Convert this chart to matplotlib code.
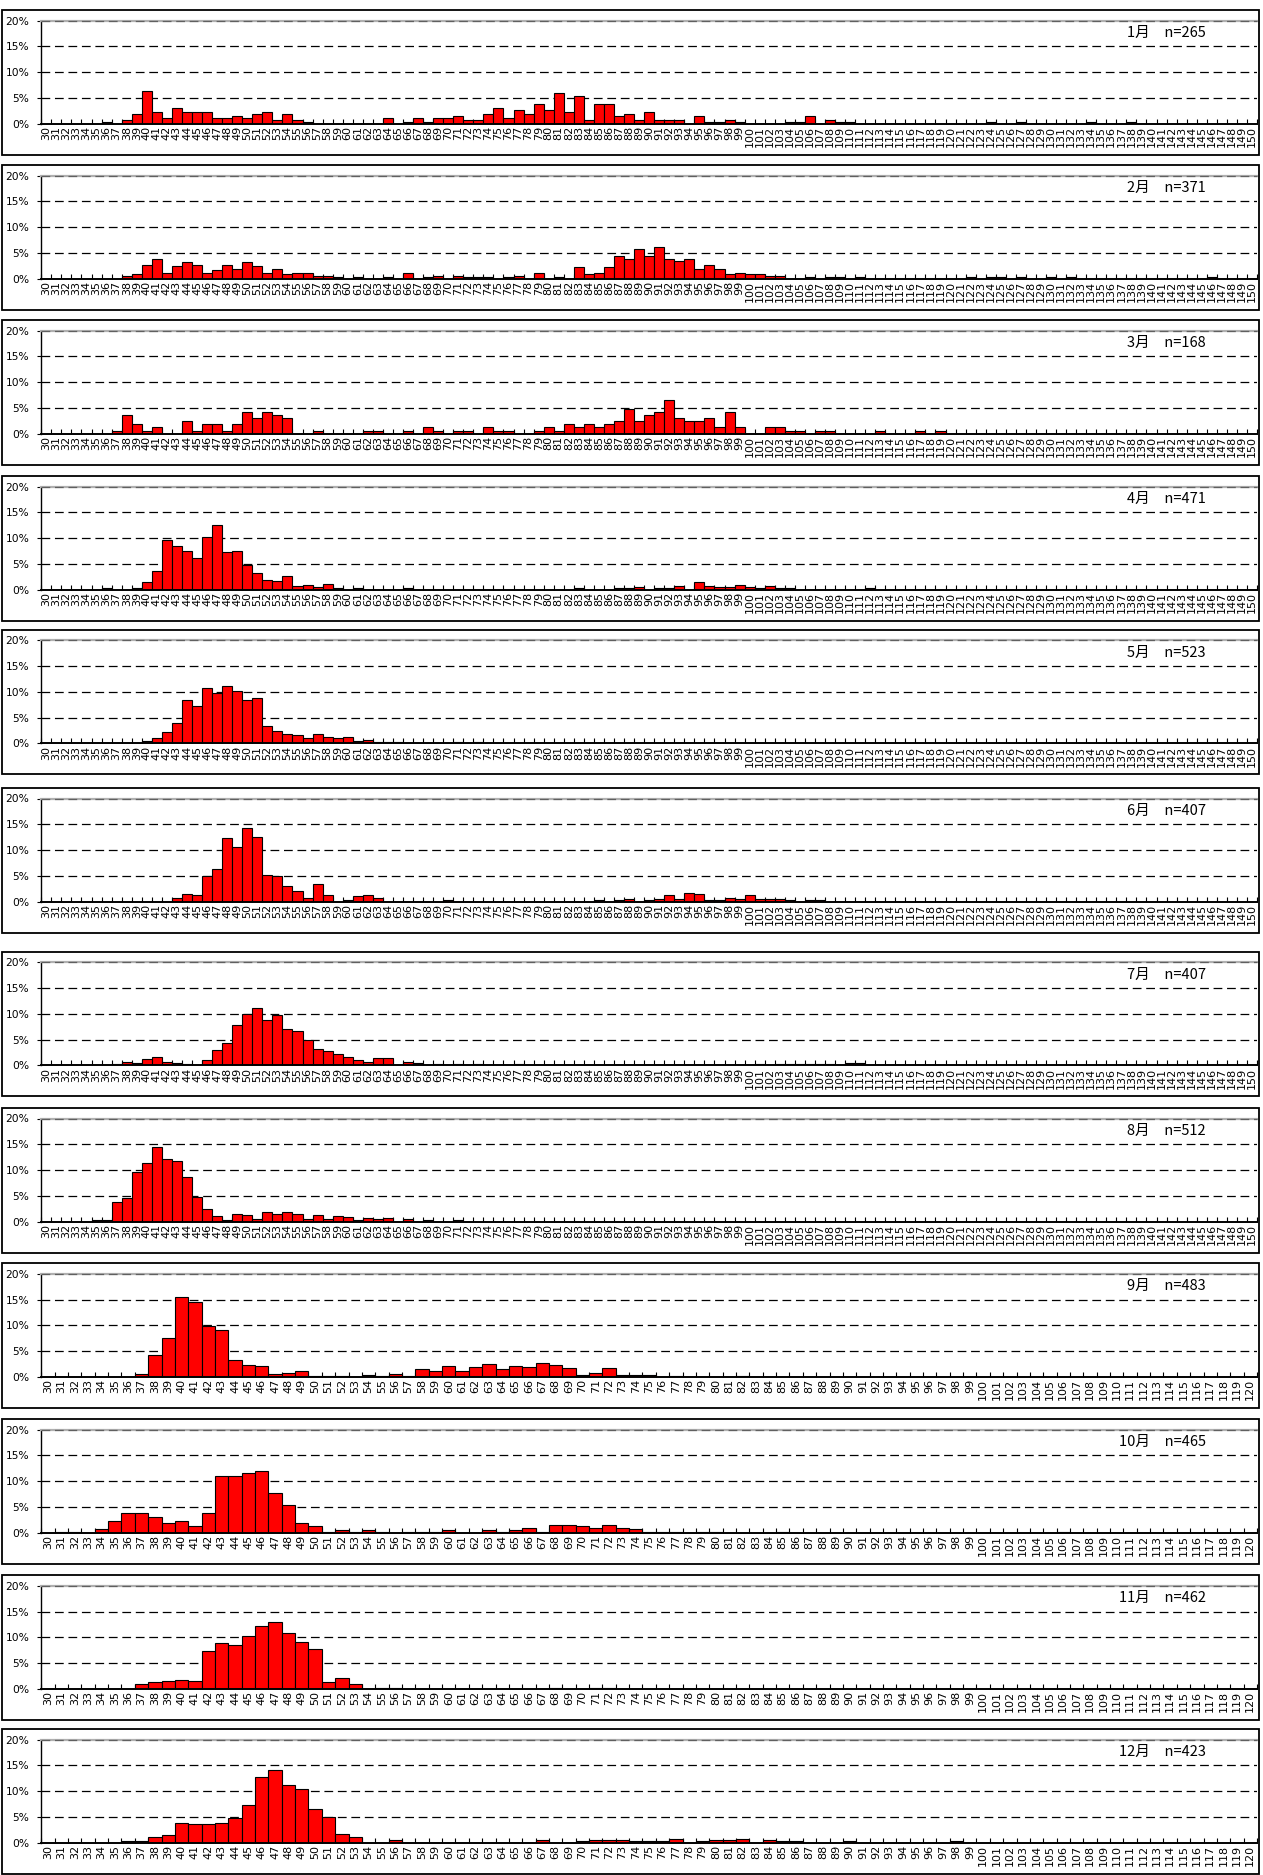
import matplotlib
matplotlib.use('Agg')
import matplotlib.pyplot as plt
from matplotlib.patches import Rectangle
import numpy as np

plt.rcParams['lines.scale_dashes'] = False
plt.rcParams['font.family'] = ['DejaVu Sans']

# ---------------- data (counts per length class, n per month) ----------------
months = ['1月', '2月', '3月', '4月', '5月', '6月', '7月', '8月', '9月', '10月', '11月', '12月']
n_values = [265, 371, 168, 471, 523, 407, 407, 512, 483, 465, 462, 423]
x_max = [150, 150, 150, 150, 150, 150, 150, 150, 120, 120, 120, 120]
y_ticks = [0, 5, 10, 15, 20]
y_tick_labels = ['0%', '5%', '10%', '15%', '20%']

jan_bins = [36, 38, 39, 40, 41, 42, 43, 44, 45, 46, 47, 48, 49, 50, 51, 52, 53, 54, 55, 56,
            64, 66, 67, 68, 69, 70, 71, 72, 73, 74, 75, 76, 77, 78, 79, 80, 81, 82, 83, 84,
            85, 86, 87, 88, 89, 90, 91, 92, 93, 95, 96, 97, 98, 99, 104, 105, 106, 108, 109, 110,
            124, 127, 134, 138]
jan_counts = [1, 2, 5, 17, 6, 3, 8, 6, 6, 6, 3, 3, 4, 3, 5, 6, 2, 5, 2, 1,
              3, 1, 3, 1, 3, 3, 4, 2, 2, 5, 8, 3, 7, 5, 10, 7, 16, 6, 14, 2,
              10, 10, 4, 5, 2, 6, 2, 2, 2, 4, 1, 1, 2, 1, 1, 1, 4, 2, 1, 1,
              1, 1, 1, 1]

feb_bins = [38, 39, 40, 41, 42, 43, 44, 45, 46, 47, 48, 49, 50, 51, 52, 53, 54, 55, 56, 57,
            58, 59, 61, 64, 66, 68, 69, 71, 72, 73, 74, 76, 77, 79, 81, 83, 84, 85, 86, 87,
            88, 89, 90, 91, 92, 93, 94, 95, 96, 97, 98, 99, 100, 101, 102, 103, 106, 108, 109, 111,
            122, 124, 125, 127, 130, 132, 146]
feb_counts = [2, 3, 10, 14, 4, 9, 12, 10, 4, 6, 10, 7, 12, 9, 4, 7, 3, 4, 4, 2,
              2, 1, 1, 1, 4, 1, 2, 2, 1, 1, 1, 1, 2, 4, 1, 8, 3, 4, 8, 16,
              14, 21, 16, 23, 14, 13, 14, 7, 10, 7, 3, 4, 3, 3, 2, 2, 1, 1, 1, 1,
              1, 1, 1, 1, 1, 1, 1]

mar_bins = [37, 38, 39, 40, 41, 44, 45, 46, 47, 48, 49, 50, 51, 52, 53, 54, 57, 62, 63, 66,
            68, 69, 71, 72, 74, 75, 76, 79, 80, 81, 82, 83, 84, 85, 86, 87, 88, 89, 90, 91,
            92, 93, 94, 95, 96, 97, 98, 99, 102, 103, 104, 105, 107, 108, 113, 117, 119]
mar_counts = [1, 6, 3, 1, 2, 4, 1, 3, 3, 1, 3, 7, 5, 7, 6, 5, 1, 1, 1, 1,
              2, 1, 1, 1, 2, 1, 1, 1, 2, 1, 3, 2, 3, 2, 3, 4, 8, 4, 6, 7,
              11, 5, 4, 4, 5, 2, 7, 2, 2, 2, 1, 1, 1, 1, 1, 1, 1]

apr_bins = [36, 39, 40, 41, 42, 43, 44, 45, 46, 47, 48, 49, 50, 51, 52, 53, 54, 55, 56, 57,
            58, 59, 61, 66, 83, 87, 88, 89, 91, 92, 93, 95, 96, 97, 98, 99, 100, 101, 102, 103,
            104, 112]
apr_counts = [1, 1, 7, 17, 45, 40, 35, 29, 48, 59, 34, 35, 22, 15, 9, 8, 12, 3, 4, 2,
              5, 1, 1, 1, 1, 1, 1, 2, 1, 1, 3, 7, 3, 2, 2, 4, 2, 1, 3, 1,
              1, 1]

may_bins = [40, 41, 42, 43, 44, 45, 46, 47, 48, 49, 50, 51, 52, 53, 54, 55, 56, 57, 58, 59,
            60, 61, 62, 63, 64, 65, 71, 73]
may_counts = [2, 5, 12, 21, 44, 38, 56, 51, 58, 53, 44, 46, 18, 13, 10, 9, 5, 10, 7, 5,
              6, 2, 3, 1, 1, 1, 1, 1]

jun_bins = [43, 44, 45, 46, 47, 48, 49, 50, 51, 52, 53, 54, 55, 56, 57, 58, 60, 61, 62, 63,
            70, 85, 87, 88, 90, 91, 92, 93, 94, 95, 96, 97, 98, 99, 100, 101, 102, 103, 104, 106,
            107]
jun_counts = [3, 6, 5, 20, 26, 50, 43, 58, 51, 21, 20, 12, 8, 3, 14, 5, 1, 4, 5, 3,
              1, 1, 1, 2, 1, 2, 5, 2, 7, 6, 1, 1, 3, 2, 5, 2, 2, 2, 1, 1,
              1]

jul_bins = [37, 38, 39, 40, 41, 42, 43, 44, 46, 47, 48, 49, 50, 51, 52, 53, 54, 55, 56, 57,
            58, 59, 60, 61, 62, 63, 64, 66, 67, 69, 71, 73, 77, 101, 103, 104, 105, 106, 107, 108,
            110, 111]
jul_counts = [1, 3, 2, 5, 7, 3, 2, 1, 4, 12, 18, 32, 41, 45, 36, 40, 29, 27, 20, 13,
              11, 9, 7, 4, 3, 6, 6, 3, 2, 1, 1, 1, 1, 1, 1, 1, 1, 1, 1, 1,
              2, 2]

aug_bins = [35, 36, 37, 38, 39, 40, 41, 42, 43, 44, 45, 46, 47, 48, 49, 50, 51, 52, 53, 54,
            55, 56, 57, 58, 59, 60, 61, 62, 63, 64, 66, 68, 71]
aug_counts = [1, 1, 19, 23, 49, 58, 74, 62, 60, 44, 24, 12, 5, 1, 7, 6, 2, 9, 7, 9,
              7, 2, 6, 2, 5, 4, 1, 3, 2, 3, 2, 1, 1]

sep_bins = [37, 38, 39, 40, 41, 42, 43, 44, 45, 46, 47, 48, 49, 50, 51, 52, 54, 55, 56, 57,
            58, 59, 60, 61, 62, 63, 64, 65, 66, 67, 68, 69, 70, 71, 72, 73, 74, 75, 77, 82]
sep_counts = [3, 20, 36, 75, 70, 48, 44, 16, 11, 10, 3, 4, 5, 1, 1, 1, 2, 1, 3, 1,
              7, 5, 10, 5, 9, 12, 7, 10, 9, 13, 11, 8, 2, 4, 8, 2, 2, 2, 1, 1]

oct_bins = [31, 32, 34, 35, 36, 37, 38, 39, 40, 41, 42, 43, 44, 45, 46, 47, 48, 49, 50, 51,
            52, 53, 54, 55, 57, 58, 59, 60, 63, 64, 65, 66, 67, 68, 69, 70, 71, 72, 73, 74,
            75, 76, 77, 79, 80, 85, 106]
oct_counts = [1, 1, 3, 11, 18, 18, 14, 9, 11, 6, 18, 51, 51, 54, 56, 36, 25, 9, 6, 1,
              2, 1, 2, 1, 1, 1, 1, 2, 2, 1, 2, 4, 1, 7, 7, 6, 4, 7, 4, 3,
              1, 1, 1, 1, 1, 1, 1]

nov_bins = [37, 38, 39, 40, 41, 42, 43, 44, 45, 46, 47, 48, 49, 50, 51, 52, 53, 55, 56, 68,
            71, 72]
nov_counts = [4, 6, 7, 8, 7, 34, 41, 39, 47, 56, 60, 50, 42, 36, 6, 10, 4, 1, 1, 1,
              1, 1]

dec_bins = [36, 37, 38, 39, 40, 41, 42, 43, 44, 45, 46, 47, 48, 49, 50, 51, 52, 53, 56, 67,
            70, 71, 72, 73, 74, 75, 76, 77, 79, 80, 81, 82, 84, 85, 86, 90, 98]
dec_counts = [1, 1, 5, 6, 16, 15, 15, 16, 20, 31, 54, 60, 47, 44, 28, 21, 7, 5, 2, 2,
              1, 2, 2, 2, 1, 1, 1, 3, 1, 2, 2, 3, 2, 1, 1, 1, 1]

all_bins = [jan_bins, feb_bins, mar_bins, apr_bins, may_bins, jun_bins,
            jul_bins, aug_bins, sep_bins, oct_bins, nov_bins, dec_bins]
all_counts = [jan_counts, feb_counts, mar_counts, apr_counts, may_counts, jun_counts,
              jul_counts, aug_counts, sep_counts, oct_counts, nov_counts, dec_counts]

# ---------------- layout (pixels) ----------------
W, H = 1263, 1875
fig = plt.figure(figsize=(W / 100, H / 100), dpi=100)

top20 = [20.6, 175.6, 330.6, 486.5, 640.4, 798.5, 962.4, 1118.5, 1273.8, 1429.7, 1585.8, 1739.6]
ax_h = 103.0
ax_left, ax_right = 41.3, 1257.0
box_left, box_right = 1.5, 1258.5

dash = (0, (6.3, 3.4))

for i in range(12):
    t = top20[i]
    box_top = t - 10.5
    box_bot = min(t + ax_h + 31, H - 1)
    fig.patches.append(Rectangle((box_left / W, 1 - box_bot / H),
                                 (box_right - box_left) / W, (box_bot - box_top) / H,
                                 transform=fig.transFigure, fill=False,
                                 edgecolor='black', linewidth=1.3, zorder=0))

    ax = fig.add_axes([ax_left / W, 1 - (t + ax_h) / H, (ax_right - ax_left) / W, ax_h / H])
    n = n_values[i]
    xm = x_max[i]
    pct = np.array(all_counts[i]) / n * 100.0
    ax.bar(all_bins[i], pct, width=1.0, color='#ff0000', edgecolor='black',
           linewidth=0.8, zorder=3)

    ax.set_xlim(29.5, xm + 0.5)
    ax.set_ylim(0, 20)

    for yv in [5, 10, 15]:
        ax.axhline(yv, color='black', linewidth=0.9, linestyle=dash, zorder=1)
    ax.axhline(20, color='#606060', linewidth=0.9, linestyle=dash, zorder=4, clip_on=False)

    ax.spines['top'].set_color('#b0b0b0')
    ax.spines['top'].set_linewidth(1.6)
    ax.spines['right'].set_visible(False)
    ax.spines['left'].set_color('black')
    ax.spines['left'].set_linewidth(1.0)
    ax.spines['bottom'].set_color('black')
    ax.spines['bottom'].set_linewidth(1.4)
    ax.spines['bottom'].set_zorder(5)

    ax.set_yticks(y_ticks)
    ax.set_yticklabels(y_tick_labels)
    ax.tick_params(axis='y', direction='out', length=3, width=0.8, pad=5.5, labelsize=7.7)

    cats = list(range(30, xm + 1))
    ax.set_xticks(cats)
    ax.set_xticklabels([str(c) for c in cats], rotation=90)
    ax.set_xticks(np.arange(29.5, xm + 1.0, 1.0), minor=True)
    ax.tick_params(axis='x', which='major', length=0, pad=1.6, labelsize=8.0)
    ax.tick_params(axis='x', which='minor', direction='in', length=3.5, width=0.8)

    ax.text(0.958, 17.6, f'{months[i]}\u3000n={n}', transform=ax.get_yaxis_transform(),
            ha='right', va='center', fontsize=10.5,
            family=['Noto Sans CJK JP', 'DejaVu Sans'], zorder=6)

fig.savefig('out.png', dpi=100)
